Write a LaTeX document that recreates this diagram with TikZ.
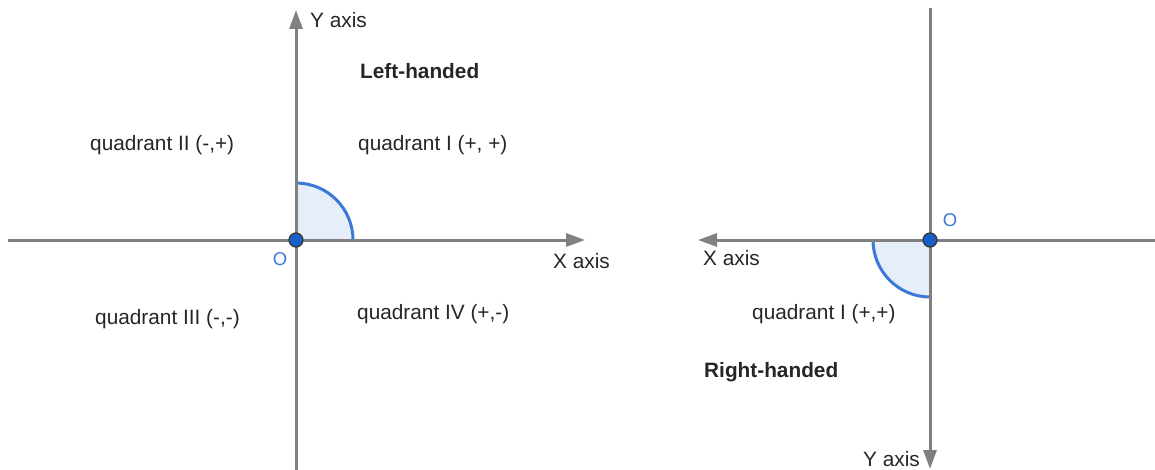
\documentclass[tikz,border=0pt]{standalone}
\usepackage{fontspec}
\setmainfont{Liberation Sans}
\usetikzlibrary{arrows.meta}
\definecolor{axisgray}{HTML}{808080}
\definecolor{arcblue}{HTML}{3C78D8}
\definecolor{arcfill}{HTML}{E6EEF9}
\definecolor{dotblue}{HTML}{1A5FC9}
\definecolor{oblue}{HTML}{3C78D8}
\tikzset{
  axis/.style={draw=axisgray, line width=3pt, -{Triangle[length=19pt,width=13pt]}},
  lbl/.style={font=\fontsize{20.8}{24}\selectfont, text=black!85, inner sep=0pt, anchor=west},
  bold/.style={lbl, font=\fontsize{20.8}{24}\selectfont\bfseries},
  olbl/.style={font=\fontsize{18.5}{22}\selectfont, text=oblue, inner sep=0pt},
  origin/.style={circle, fill=dotblue, draw=black!80, line width=1.2pt, minimum size=14pt, inner sep=0pt}
}
\begin{document}
\begin{tikzpicture}[x=1pt,y=-1pt]
\useasboundingbox (0,0) rectangle (1155,470);
% left system
\coordinate (O1) at (296,240);
\coordinate (L1) at (8,240);
\coordinate (R1) at (585,240);
\coordinate (B1) at (296,470);
\coordinate (T1) at (296,10);
\fill[arcfill] (O1) -- (353,240) arc[start angle=0, end angle=-90, radius=57] -- cycle;
\draw[arcblue, line width=3pt] (353,240) arc[start angle=0, end angle=-90, radius=57];
\draw[axis] (L1) -- (R1);
\draw[axis] (B1) -- (T1);
\node[origin] (o1) at (O1) {};
\node[lbl] (ylab1) at (310,20) {Y axis};
\node[bold] (lh) at (360,71) {Left-handed};
\node[lbl] (q2) at (90,145) {quadrant II (-,+)};
\node[lbl] (q1) at (358,145) {quadrant I (+, +)};
\node[olbl] (ol1) at (280,259) {O};
\node[lbl] (xlab1) at (553,261) {X axis};
\node[lbl] (q3) at (95,319) {quadrant III (-,-)};
\node[lbl] (q4) at (357,314) {quadrant IV (+,-)};
% right system
\coordinate (O2) at (930,240);
\coordinate (L2) at (698,240);
\coordinate (R2) at (1155,240);
\coordinate (T2) at (930,8);
\coordinate (B2) at (930,469);
\fill[arcfill] (O2) -- (930,297) arc[start angle=90, end angle=180, radius=57] -- cycle;
\draw[arcblue, line width=3pt] (930,297) arc[start angle=90, end angle=180, radius=57];
\draw[axis] (R2) -- (L2);
\draw[axis] (T2) -- (B2);
\node[origin] (o2) at (O2) {};
\node[olbl] (ol2) at (950,220) {O};
\node[lbl] (xlab2) at (703,258) {X axis};
\node[lbl] (q1r) at (752,314) {quadrant I (+,+)};
\node[bold] (rh) at (704,372) {Right-handed};
\node[lbl] (ylab2) at (863,459) {Y axis};
\end{tikzpicture}
\end{document}
